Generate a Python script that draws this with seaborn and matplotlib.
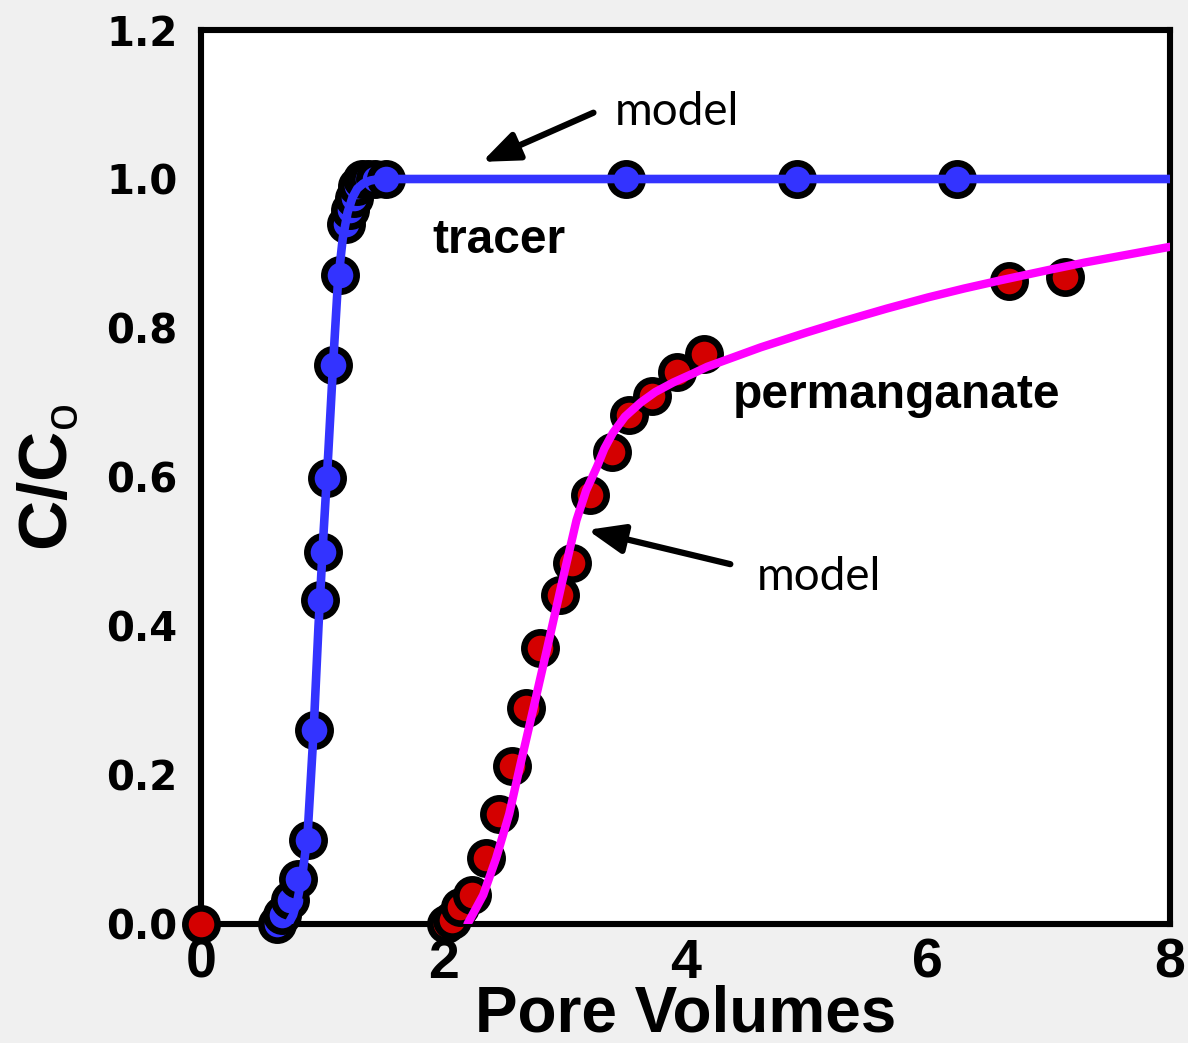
import numpy as np
import pandas as pd
import matplotlib
matplotlib.use("Agg")
import matplotlib.pyplot as plt
import seaborn as sns
from matplotlib.ticker import MultipleLocator, FormatStrFormatter

# ---- data ----
tracer_x = [0.63, 0.67, 0.735, 0.80, 0.88, 0.93, 0.98, 1.01, 1.04, 1.09, 1.15,
            1.195, 1.23, 1.26, 1.29, 1.33, 1.38, 1.44, 1.53, 3.51, 4.92, 6.24]
tracer_y = [0.0, 0.012, 0.032, 0.06, 0.113, 0.26, 0.435, 0.50, 0.598, 0.75, 0.871,
            0.94, 0.958, 0.975, 0.99, 1.0, 1.0, 1.0, 1.0, 1.0, 1.0, 1.0]

tracer_model_x = [0.72, 0.76, 0.80, 0.84, 0.88, 0.93, 0.97, 1.01, 1.05, 1.09,
                  1.13, 1.17, 1.21, 1.25, 1.29, 1.34, 1.40, 1.47, 1.55, 8.0]
tracer_model_y = [0.0, 0.012, 0.035, 0.07, 0.12, 0.26, 0.40, 0.52, 0.63, 0.75,
                  0.86, 0.92, 0.955, 0.975, 0.987, 0.994, 0.998, 1.0, 1.0, 1.0]

perm_x = [0.0, 2.02, 2.07, 2.14, 2.24, 2.35, 2.46, 2.57, 2.68, 2.80, 2.96, 3.06,
          3.21, 3.39, 3.53, 3.72, 3.93, 4.15, 6.67, 7.13]
perm_y = [0.0, 0.0, 0.005, 0.023, 0.039, 0.088, 0.148, 0.212, 0.29, 0.37, 0.442, 0.485,
          0.576, 0.633, 0.683, 0.709, 0.741, 0.765, 0.863, 0.869]

perm_model_x = [2.20, 2.25, 2.33, 2.436, 2.545, 2.634, 2.745, 2.855, 2.98, 3.10,
                3.18, 3.27, 3.33, 3.40, 3.50, 3.63, 3.75, 3.90, 4.05, 4.18, 4.40,
                4.62, 5.00, 5.30, 5.66, 6.00, 6.30, 6.60, 7.00, 7.30, 7.60, 8.00]
perm_model_y = [0.0, 0.015, 0.039, 0.088, 0.148, 0.212, 0.29, 0.368, 0.458, 0.542,
                0.582, 0.614, 0.638, 0.659, 0.681, 0.700, 0.714, 0.727, 0.738, 0.748, 0.761,
                0.774, 0.794, 0.809, 0.826, 0.841, 0.853, 0.864, 0.878, 0.888, 0.897, 0.909]

x_ticks = [0, 2, 4, 6, 8]
y_ticks = [0.0, 0.2, 0.4, 0.6, 0.8, 1.0, 1.2]

BLUE = "#3333ff"
RED = "#d40000"
MAGENTA = "#ff00ff"

sns.set_theme(style="white")
plt.rcParams['font.family'] = ['Liberation Sans', 'DejaVu Sans']
plt.rcParams['mathtext.fontset'] = 'custom'
plt.rcParams['mathtext.rm'] = 'Liberation Sans'
plt.rcParams['mathtext.bf'] = 'Liberation Sans:bold'
for k in ['text.color', 'axes.labelcolor', 'xtick.color', 'ytick.color']:
    plt.rcParams[k] = 'black'

fig = plt.figure(figsize=(11.88, 10.43), dpi=100, facecolor='#f0f0f0')
L, R, T, B = 201 / 1188, 1170 / 1188, 1 - 30 / 1043, 1 - 924 / 1043
ax = fig.add_axes([L, B, R - L, T - B])
ax.set_facecolor('white')

tracer_df = pd.DataFrame({"pv": tracer_x, "c": tracer_y})
perm_df = pd.DataFrame({"pv": perm_x, "c": perm_y})
tm_df = pd.DataFrame({"pv": tracer_model_x, "c": tracer_model_y})
pm_df = pd.DataFrame({"pv": perm_model_x, "c": perm_model_y})

mk = dict(s=540, edgecolor='black', linewidth=4.8, zorder=3, clip_on=False, legend=False)
sns.scatterplot(data=perm_df, x="pv", y="c", color=RED, ax=ax, **mk)
sns.scatterplot(data=tracer_df, x="pv", y="c", color=BLUE, ax=ax, **mk)

sns.lineplot(data=tm_df, x="pv", y="c", sort=False, estimator=None, color=BLUE,
             lw=6.2, ax=ax, zorder=4)
sns.lineplot(data=pm_df, x="pv", y="c", sort=False, estimator=None, color=MAGENTA,
             lw=6.0, ax=ax, zorder=4)

ax.set_xlim(0, 8)
ax.set_ylim(0, 1.2)
ax.set_xticks(x_ticks)
ax.set_yticks(y_ticks)
ax.xaxis.set_minor_locator(MultipleLocator(0.5))
ax.yaxis.set_minor_locator(MultipleLocator(0.05))
ax.yaxis.set_major_formatter(FormatStrFormatter('%.1f'))
ax.xaxis.set_major_formatter(FormatStrFormatter('%d'))

for s in ax.spines.values():
    s.set_linewidth(4.4)
    s.set_color('black')
    s.set_zorder(2.5)

ax.tick_params(axis='both', which='both', direction='in', color='black',
               top=False, right=False)
ax.tick_params(axis='both', which='major', length=14, width=2.3)
ax.tick_params(axis='both', which='minor', length=7.5, width=2.3)
ax.tick_params(axis='x', which='major', pad=10)
ax.tick_params(axis='y', which='major', pad=17)

for lab in ax.get_xticklabels():
    lab.set_fontfamily('Liberation Sans')
    lab.set_fontweight('bold')
    lab.set_fontsize(40)
for lab in ax.get_yticklabels():
    lab.set_fontfamily('DejaVu Sans')
    lab.set_fontweight('bold')
    lab.set_fontsize(29)

ax.set_xlabel("Pore Volumes", fontsize=46, fontweight='bold', labelpad=-4)
ax.set_ylabel(r"C/C$_\mathrm{o}$", fontsize=50, fontweight='bold', labelpad=18)

# annotations
ax.text(1.908, 0.901, "tracer", fontsize=34.5, fontweight='bold', va='baseline', ha='left')
ax.text(4.39, 0.693, "permanganate", fontsize=34.5, fontweight='bold', va='baseline', ha='left')
ax.text(3.42, 1.072, "model", fontsize=33, family='Lato', va='baseline', ha='left')
ax.text(4.59, 0.448, "model", fontsize=33, family='Lato', va='baseline', ha='left')

arrow = dict(arrowstyle='-|>,head_length=0.55,head_width=0.22', lw=4.5, color='black',
             mutation_scale=40, shrinkA=0, shrinkB=0)
ax.annotate("", xy=(2.32, 1.023), xytext=(3.24, 1.089), arrowprops=arrow)
ax.annotate("", xy=(3.19, 0.529), xytext=(4.37, 0.483), arrowprops=arrow)

fig.savefig("out.png", dpi=100, facecolor=fig.get_facecolor())
